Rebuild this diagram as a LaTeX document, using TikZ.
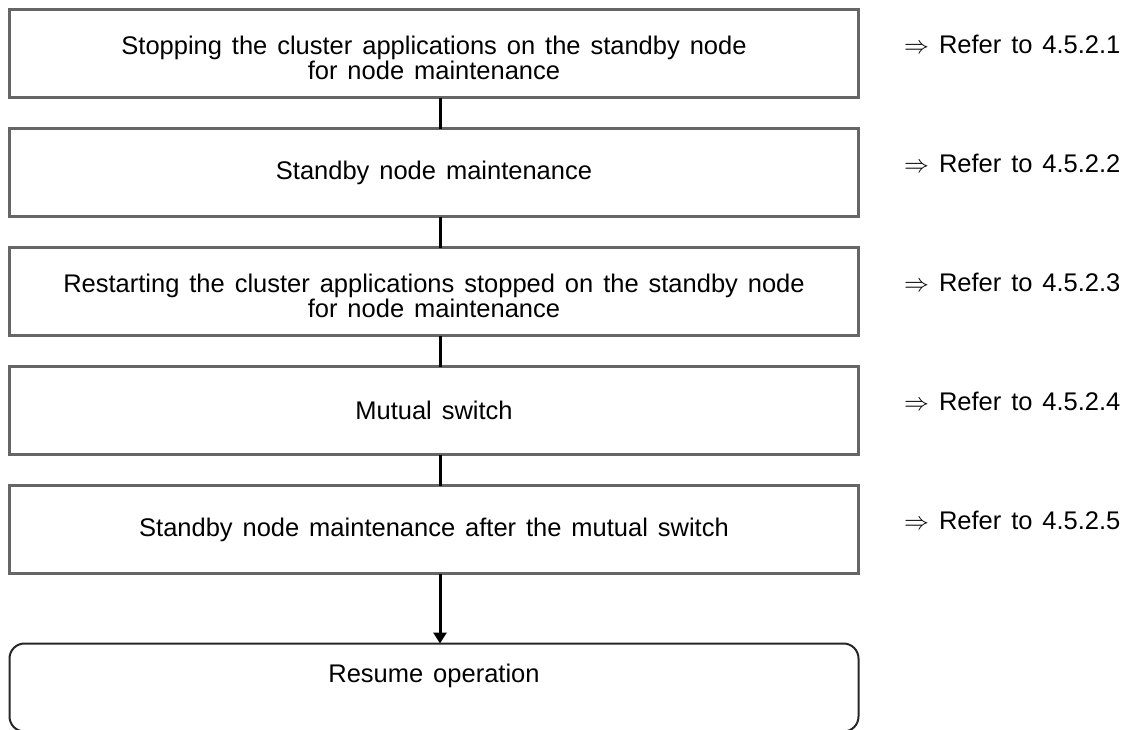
\documentclass[tikz,border=0pt]{standalone}
\usepackage{fontspec}
\setmainfont{Liberation Sans}[WordSpace=1.4]
\usepackage{tikz}
\usetikzlibrary{positioning, arrows.meta}

\begin{document}
\begin{tikzpicture}[
    x=1pt, y=-1pt,
    font=\fontsize{25.5pt}{25pt}\selectfont, node distance=31pt,
    stepbox/.style={draw=black!60, line width=3pt, minimum width=849pt, minimum height=88pt, inner sep=0pt, outer sep=0pt, align=center},
    twoline/.style={stepbox, text height=51pt, text depth=0pt},
    endbox/.style={draw=black!85, line width=2pt, rounded corners=15pt, minimum width=849pt, inner sep=0pt, outer sep=0pt, text height=39pt, text depth=49pt},
    refer/.style={anchor=base west, inner sep=0pt},
    link/.style={line width=3pt, black},
    arr/.style={link, -{Triangle[length=11pt, width=13pt]}}]
    \useasboundingbox (0,0) rectangle (1121,729);
    \node[twoline] (stop) at (434,53.5)
      {Stopping the cluster applications on the standby node\\ for node maintenance};
    \node[stepbox, below=of stop] (maint) {Standby node maintenance};
    \node[twoline, below=of maint] (restart)
      {Restarting the cluster applications stopped on the standby node\\ for node maintenance};
    \node[stepbox, below=of restart] (switch) {Mutual switch};
    \node[stepbox, below=of switch] (after) {Standby node maintenance after the mutual switch};
    \node[endbox, below=70pt of after] (resume) {Resume operation};
    % section references
    \node[refer] (ref1) at (904,53) {$\Rightarrow$ Refer to 4.5.2.1};
    \node[refer] (ref2) at (904,172) {$\Rightarrow$ Refer to 4.5.2.2};
    \node[refer] (ref3) at (904,291) {$\Rightarrow$ Refer to 4.5.2.3};
    \node[refer] (ref4) at (904,410) {$\Rightarrow$ Refer to 4.5.2.4};
    \node[refer] (ref5) at (904,529) {$\Rightarrow$ Refer to 4.5.2.5};
    \draw[link] ([xshift=6pt]stop.south) -- ([xshift=6pt]maint.north);
    \draw[link] ([xshift=6pt]maint.south) -- ([xshift=6pt]restart.north);
    \draw[link] ([xshift=6pt]restart.south) -- ([xshift=6pt]switch.north);
    \draw[link] ([xshift=6pt]switch.south) -- ([xshift=6pt]after.north);
    \draw[arr] ([xshift=6pt]after.south) -- ([xshift=6pt]resume.north);
  \end{tikzpicture}
\end{document}
